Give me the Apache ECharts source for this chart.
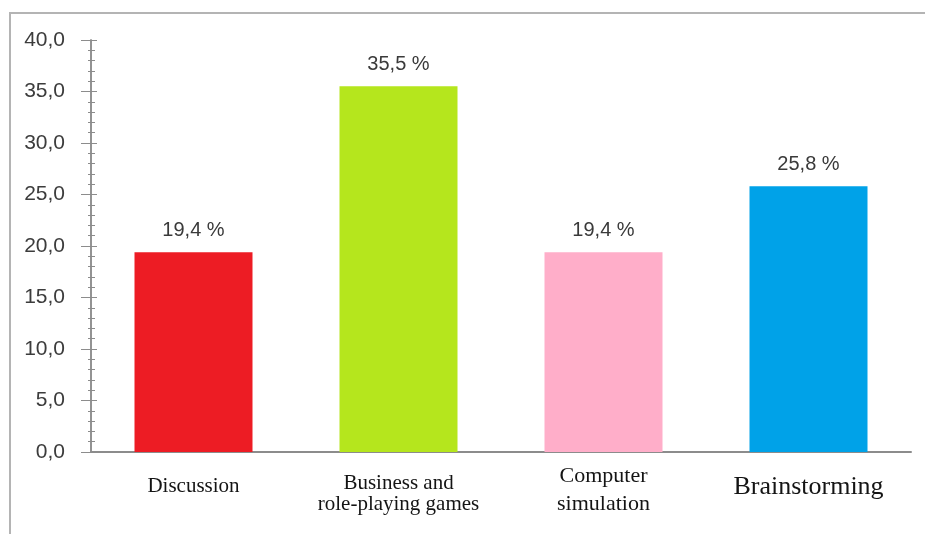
<!DOCTYPE html>
<html>
<head>
<meta charset="utf-8">
<script src="https://cdn.jsdelivr.net/npm/echarts@6/dist/echarts.min.js"></script>
<style>
  html, body { margin: 0; padding: 0; background: #fff; }
  #chart { width: 925px; height: 534px; }
</style>
</head>
<body>
<div id="chart"></div>
<script>
// 各方法占比（%）
const categories = ['Discussion', 'Business and\nrole-playing games', 'Computer\nsimulation', 'Brainstorming'];
const values = [19.4, 35.5, 19.4, 25.8];
const barColors = ['#ED1C24', '#B5E61D', '#FFAEC9', '#00A2E8'];
const labelStyles = ['d', 'b', 'c', 'r'];

const fmt = v => v.toFixed(1).replace('.', ',');

const chart = echarts.init(document.getElementById('chart'));

const yBase = {
  type: 'value',
  min: 0,
  max: 40,
  interval: 5,
  position: 'left',
  axisLine: { show: true, lineStyle: { color: '#8c8c8c', width: 1.5 } },
  splitLine: { show: false }
};

const serif = { fontFamily: 'Liberation Serif', color: '#141414' };

chart.setOption({
  animation: false,
  graphic: [{
    type: 'rect',
    shape: { x: 10, y: 13, width: 940, height: 540 },
    style: { fill: 'none', stroke: '#b4b4b4', lineWidth: 2 },
    z: -1
  }],
  grid: { left: 91, right: 14, top: 40, bottom: 82 },
  xAxis: {
    type: 'category',
    data: categories,
    axisLine: { lineStyle: { color: '#8c8c8c', width: 2 } },
    axisTick: { show: false },
    axisLabel: {
      margin: 16,
      interval: 0,
      formatter: (v, i) => {
        const k = labelStyles[i];
        return v.split('\n').map((s, j) => `{${k}${j + 1}|${s}}`).join('\n');
      },
      // 行高用来控制每个标签的竖直位置
      rich: {
        d1: Object.assign({ fontSize: 21, lineHeight: 36 }, serif),
        b1: Object.assign({ fontSize: 21, lineHeight: 30 }, serif),
        b2: Object.assign({ fontSize: 21, lineHeight: 12 }, serif),
        c1: Object.assign({ fontSize: 22, lineHeight: 16 }, serif),
        c2: Object.assign({ fontSize: 22, lineHeight: 40 }, serif),
        r1: Object.assign({ fontSize: 26, lineHeight: 38 }, serif)
      }
    }
  },
  yAxis: [
    Object.assign({}, yBase, {
      axisTick: { show: true, inside: false, length: 10, lineStyle: { color: '#8c8c8c' } },
      minorTick: { show: true, splitNumber: 5, length: 3, lineStyle: { color: '#8c8c8c' } },
      axisLabel: {
        margin: 26,
        formatter: v => fmt(v),
        fontFamily: 'Liberation Sans',
        fontSize: 21,
        color: '#3c3c3c'
      }
    }),
    Object.assign({}, yBase, {
      axisTick: { show: true, inside: true, length: 6, lineStyle: { color: '#8c8c8c' } },
      minorTick: { show: true, splitNumber: 5, length: 4, lineStyle: { color: '#8c8c8c' } },
      axisLabel: { show: false }
    })
  ],
  series: [{
    type: 'bar',
    yAxisIndex: 0,
    barWidth: 118,
    data: values.map((v, i) => ({ value: v, itemStyle: { color: barColors[i] } })),
    label: {
      show: true,
      position: 'top',
      distance: 12,
      formatter: p => fmt(p.value) + ' %',
      fontFamily: 'Liberation Sans',
      fontSize: 20,
      color: '#3a3a3a'
    }
  }]
});
</script>
</body>
</html>
